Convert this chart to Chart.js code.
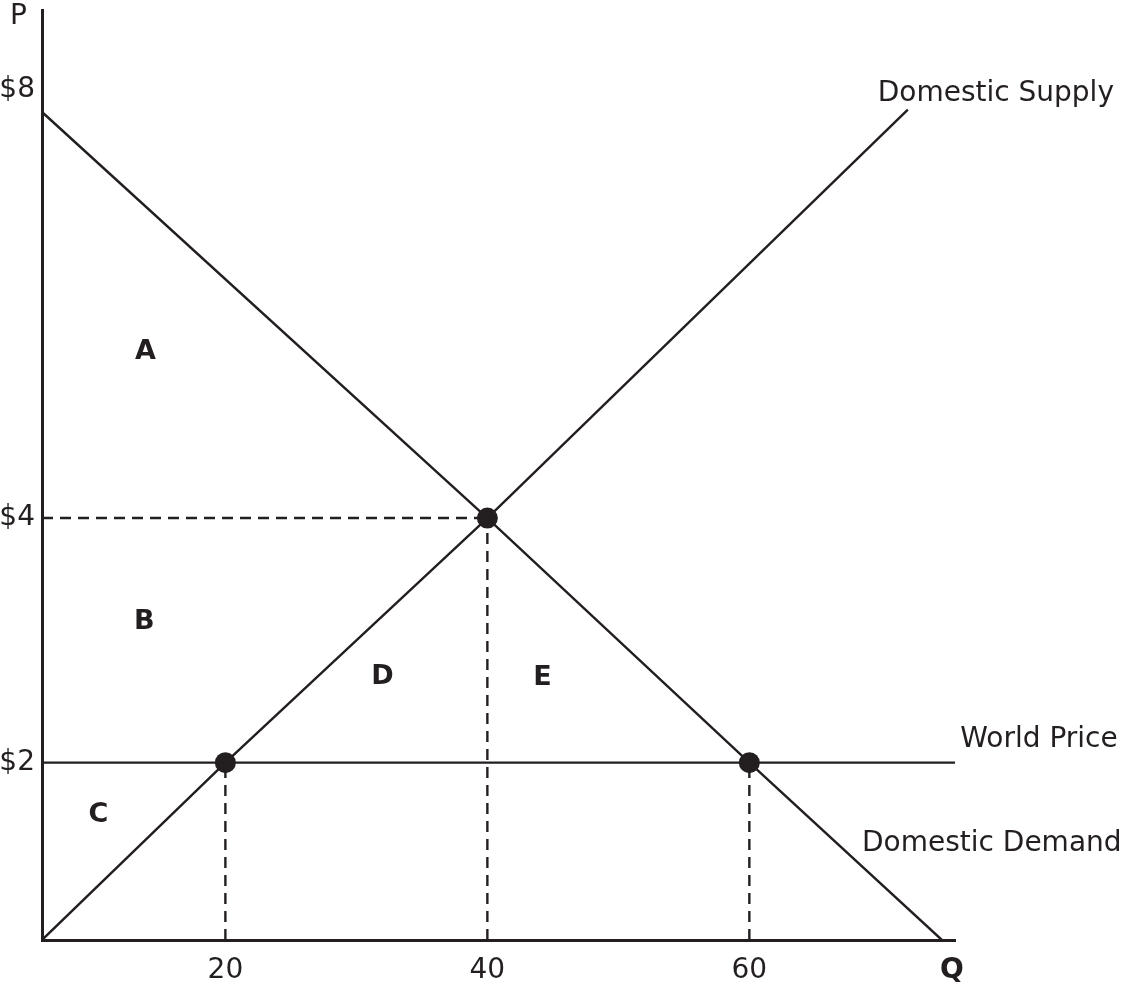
<!DOCTYPE html>
<html>
<head>
<meta charset="utf-8">
<script src="https://cdn.jsdelivr.net/npm/chart.js@4"></script>
<style>
  html, body { margin: 0; padding: 0; background: #fff; }
  canvas { display: block; }
</style>
</head>
<body>
<canvas id="chart" width="1134" height="982"></canvas>
<script>
// values (Q across, P up)
const demandQ = [6, 40, 60, 74.7];
const demandP = [7.32, 4, 2, 0.55];
const supplyQ = [6, 20, 40, 72.1];
const supplyP = [0.55, 2, 4, 7.34];
const worldQ = [6, 75.7];
const worldP = [2, 2];
const pointQ = [20, 40, 60];
const pointP = [2, 4, 2];

const xTicks = [20, 40, 60];
const xTickLabels = ["20", "40", "60"];
const yTicks = [2, 4, 7.5];
const yTickLabels = ["$2", "$4", "$8"];

// region letters and curve names, anchored in Q/P units
const areaNames = ["A", "B", "C", "D", "E"];
const areaQ = [13.9, 13.8, 10.3, 32, 44.2];
const areaP = [5.36, 3.15, 1.57, 2.7, 2.69];
const curveNames = ["Domestic Supply", "World Price", "Domestic Demand"];
const curveQ = [69.8, 76.1, 68.6];
const curveP = [7.47, 2.19, 1.34];

const Q_MIN = 6, Q_MAX = 75.7, P_MIN = 0.55, P_MAX = 8.15;
const INK = "#231f20";
const FONT = "'DejaVu Sans', sans-serif";

const toPoints = (qs, ps) => qs.map((q, i) => ({ x: q, y: ps[i] }));

const solid = (data) => ({
	data: data,
	showLine: true,
	borderColor: INK,
	borderWidth: 2.4,
	pointRadius: 0,
	fill: false,
});

const dashed = (data) => ({
	...solid(data),
	borderDash: [11, 7],
});

// dashed guides: down from each dot to the Q axis, and across from the $4 dot
const guides = pointQ.map((q, i) => dashed([{ x: q, y: P_MIN }, { x: q, y: pointP[i] }]));
guides.push(dashed([{ x: Q_MIN, y: 4 }, { x: 40, y: 4 }]));

const labelPlugin = {
	id: "labels",
	afterDatasetsDraw(chart) {
		const { ctx, chartArea, scales: { x, y } } = chart;
		ctx.save();
		ctx.fillStyle = INK;
		ctx.textBaseline = "middle";

		ctx.font = "bold 27px " + FONT;
		ctx.textAlign = "center";
		areaNames.forEach((t, i) => {
			ctx.fillText(t, x.getPixelForValue(areaQ[i]), y.getPixelForValue(areaP[i]));
		});

		ctx.font = "28px " + FONT;
		ctx.textAlign = "left";
		curveNames.forEach((t, i) => {
			ctx.fillText(t, x.getPixelForValue(curveQ[i]), y.getPixelForValue(curveP[i]));
		});

		// axis names
		ctx.fillText("P", chartArea.left - 32, chartArea.top + 6);
		ctx.font = "bold 28px " + FONT;
		ctx.textAlign = "center";
		ctx.fillText("Q", chartArea.right - 3, chartArea.bottom + 31);
		ctx.restore();
	},
};

new Chart(document.getElementById("chart"), {
	type: "scatter",
	data: {
		datasets: [
			solid(toPoints(demandQ, demandP)),
			solid(toPoints(supplyQ, supplyP)),
			solid(toPoints(worldQ, worldP)),
			...guides,
			{
				data: toPoints(pointQ, pointP),
				showLine: false,
				pointRadius: 10.5,
				pointBackgroundColor: INK,
				pointBorderWidth: 0,
			},
		],
	},
	options: {
		responsive: false,
		animation: false,
		events: [],
		layout: { padding: { top: 5, right: 179, left: 0, bottom: 0 } },
		plugins: {
			legend: { display: false },
			tooltip: { enabled: false },
		},
		scales: {
			x: {
				type: "linear",
				min: Q_MIN,
				max: Q_MAX,
				grid: { display: false, drawTicks: false },
				border: { display: true, color: INK, width: 3 },
				afterBuildTicks: (scale) => {
					scale.ticks = xTicks.map((v) => ({ value: v }));
				},
				afterFit: (scale) => {
					scale.height = 42;
					scale.paddingLeft = 0;
					scale.paddingRight = 0;
				},
				ticks: {
					padding: 14,
					color: INK,
					font: { family: FONT, size: 28 },
					maxRotation: 0,
					autoSkip: false,
					callback: (v) => xTickLabels[xTicks.indexOf(v)],
				},
			},
			y: {
				type: "linear",
				min: P_MIN,
				max: P_MAX,
				grid: { display: false, drawTicks: false },
				border: { display: true, color: INK, width: 3 },
				afterBuildTicks: (scale) => {
					scale.ticks = yTicks.map((v) => ({ value: v }));
				},
				afterFit: (scale) => {
					scale.width = 42;
					scale.paddingTop = 0;
					scale.paddingBottom = 0;
				},
				ticks: {
					padding: 7,
					color: INK,
					font: { family: FONT, size: 28 },
					autoSkip: false,
					callback: (v) => yTickLabels[yTicks.indexOf(v)],
				},
			},
		},
	},
	plugins: [labelPlugin],
});
</script>
</body>
</html>
